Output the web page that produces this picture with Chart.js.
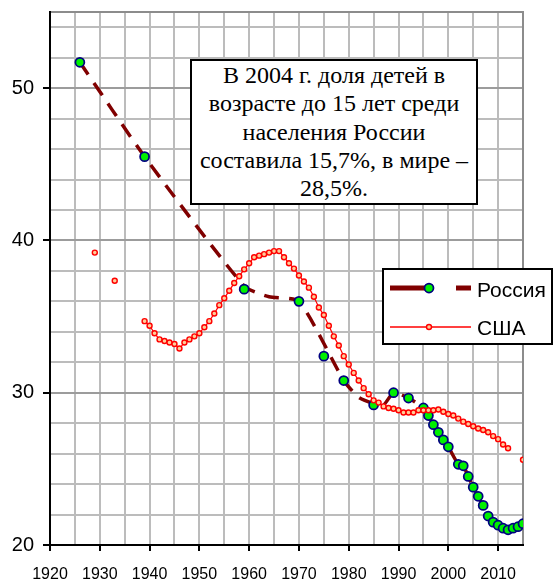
<!DOCTYPE html>
<html>
<head>
<meta charset="utf-8">
<script src="https://cdn.jsdelivr.net/npm/chart.js@4.4.1/dist/chart.umd.min.js"></script>
<style>
  html, body { margin: 0; padding: 0; background: #fff; }
  #wrap { position: relative; width: 554px; height: 585px; }
  #note {
    position: absolute; left: 190px; top: 59px; width: 288px; height: 146px;
    box-sizing: border-box; border: 2px solid #000; background: #fff;
    font-family: "Liberation Serif", "Times New Roman", serif;
    font-size: 24px; line-height: 28.3px; text-align: center; white-space: nowrap; color: #000;
  }
</style>
</head>
<body>
<div id="wrap">
  <canvas id="chart" width="554" height="585"></canvas>
  <div id="note">В 2004 г. доля детей в<br>возрасте до 15 лет среди<br>населения России<br>составила 15,7%, в мире –<br>28,5%.</div>
</div>
<script>
// ---------- Data ----------
const russiaLabel = 'Россия';
const usLabel = 'США';

// Russia: markers
const russiaYears  = [1926, 1939, 1959, 1970, 1975, 1979, 1985, 1989, 1992,
  1995, 1996, 1997, 1998, 1999, 2000,
  2002, 2003, 2004, 2005, 2006, 2007, 2008, 2009, 2010, 2011, 2012, 2013, 2014, 2015];
const russiaValues = [51.7, 45.5, 36.8, 36.0, 32.4, 30.8, 29.2, 30.0, 29.65,
  29.0, 28.5, 27.9, 27.4, 26.9, 26.45,
  25.3, 25.2, 24.5, 23.8, 23.2, 22.6, 21.9, 21.5, 21.3, 21.1, 21.0, 21.1, 21.2, 21.4];

// Russia: dashed line as it is drawn
const russiaLineYears  = [1926, 1939, 1959, 1964, 1970, 1979, 1982, 1985, 1987, 1989, 1992,
  1995, 1996, 1997, 1998, 1999, 2000,
  2002, 2003, 2004, 2005, 2006, 2007, 2008, 2009, 2010, 2011, 2012, 2013, 2014, 2015];
const russiaLineValues = [51.7, 45.5, 37.0, 36.3, 36.0, 30.8, 29.7, 29.3, 29.2, 30.0, 29.65,
  29.0, 28.5, 27.9, 27.4, 26.9, 26.45,
  25.3, 25.2, 24.5, 23.8, 23.2, 22.6, 21.9, 21.5, 21.3, 21.1, 21.0, 21.1, 21.2, 21.4];

// USA
const usYears = [1929, 1933,
  1939, 1940, 1941, 1942, 1943, 1944, 1945, 1946, 1947, 1948, 1949,
  1950, 1951, 1952, 1953, 1954, 1955, 1956, 1957, 1958, 1959,
  1960, 1961, 1962, 1963, 1964, 1965, 1966, 1967, 1968, 1969,
  1970, 1971, 1972, 1973, 1974, 1975, 1976, 1977, 1978, 1979,
  1980, 1981, 1982, 1983, 1984, 1985, 1986, 1987, 1988, 1989,
  1990, 1991, 1992, 1993, 1994, 1995, 1996, 1997, 1998, 1999,
  2000, 2001, 2002, 2003, 2004, 2005, 2006, 2007, 2008, 2009,
  2010, 2011, 2012, 2015];
const usValues = [39.2, 37.35,
  34.7, 34.4, 33.9, 33.5, 33.4, 33.3, 33.2, 32.9, 33.3, 33.5, 33.7,
  33.9, 34.3, 34.7, 35.2, 35.75, 36.2, 36.7, 37.2, 37.65, 38.1,
  38.5, 38.9, 39.0, 39.1, 39.2, 39.3, 39.3, 38.9, 38.5, 38.15,
  37.7, 37.3, 36.9, 36.3, 35.6, 35.1, 34.4, 33.7, 33.1, 32.4,
  31.85, 31.3, 30.8, 30.3, 29.9, 29.5, 29.35, 29.1, 29.0, 28.95,
  28.85, 28.7, 28.7, 28.7, 28.85, 28.85, 28.85, 28.85, 28.9, 28.75,
  28.6, 28.5, 28.3, 28.1, 27.95, 27.8, 27.65, 27.55, 27.4, 27.15,
  26.95, 26.6, 26.35, 25.6];

const xMin = 1920, xMax = 2015, xStep = 5, xLabelStep = 10;
const yMin = 20, yMax = 55, yStep = 2, yLabelStep = 10;

// ---------- Helpers ----------
// pairs -> points, with a null between non-consecutive years so the line breaks
function toPoints(years, values, breakGaps) {
  const pts = [];
  years.forEach((yr, i) => {
    if (breakGaps && i > 0 && yr - years[i - 1] > 1) pts.push({ x: yr - 0.5, y: null });
    pts.push({ x: yr, y: values[i] });
  });
  return pts;
}

// grid positions: every step from min to max
function steps(min, max, step) {
  const out = [];
  for (let v = min; v <= max + 1e-9; v += step) out.push(v);
  return out;
}

const GREEN = '#00f000', NAVY = '#000080', DARKRED = '#800000';
const RED = '#ff0000', PEACH = '#ffcc99';
const GRID = '#bcbcbc', GRID_MAJOR = '#9c9c9c', FRAME = '#8c8c8c';
const SANS = '"Liberation Sans", Arial, sans-serif';

function seg(ctx, x1, y1, x2, y2) {
  ctx.beginPath(); ctx.moveTo(x1, y1); ctx.lineTo(x2, y2); ctx.stroke();
}

// Excel-like grid, frame, axes and tick marks, placed through the chart's scales
const gridPlugin = {
  id: 'excelGrid',
  beforeDatasetsDraw(chart) {
    const ctx = chart.ctx;
    const a = chart.chartArea;
    const sx = chart.scales.x, sy = chart.scales.y;
    ctx.save();
    ctx.setLineDash([]);
    ctx.lineWidth = 2;
    ctx.strokeStyle = GRID;
    steps(xMin, xMax, xStep).forEach(v => {
      const px = Math.round(sx.getPixelForValue(v));
      seg(ctx, px, a.top, px, a.bottom);
    });
    steps(yMin, yMax, yStep).forEach(v => {
      const py = Math.round(sy.getPixelForValue(v));
      ctx.strokeStyle = v % yLabelStep === 0 ? GRID_MAJOR : GRID;
      seg(ctx, a.left, py, a.right, py);
    });
    // top / right frame
    ctx.strokeStyle = FRAME;
    ctx.beginPath();
    ctx.moveTo(a.left, a.top); ctx.lineTo(a.right, a.top); ctx.lineTo(a.right, a.bottom);
    ctx.stroke();
    // axes + tick marks
    ctx.strokeStyle = '#000';
    seg(ctx, a.left, a.top - 1, a.left, a.bottom + 1);
    seg(ctx, a.left - 1, a.bottom, a.right + 1, a.bottom);
    steps(xMin, xMax, xLabelStep).forEach(v => {
      const px = Math.round(sx.getPixelForValue(v));
      seg(ctx, px, a.bottom, px, a.bottom + 6);
    });
    steps(yMin, yMax, yLabelStep).forEach(v => {
      const py = Math.round(sy.getPixelForValue(v));
      seg(ctx, a.left - 7, py, a.left, py);
    });
    ctx.restore();
  }
};

// Excel-like legend box: line + marker + label
const legendPlugin = {
  id: 'boxLegend',
  afterDraw(chart) {
    const ctx = chart.ctx;
    ctx.save();
    ctx.setLineDash([]);
    ctx.fillStyle = '#fff';
    ctx.strokeStyle = '#000';
    ctx.lineWidth = 2;
    ctx.fillRect(383, 269, 169, 75);
    ctx.strokeRect(383, 269, 169, 75);

    // Russia
    ctx.strokeStyle = DARKRED;
    ctx.lineWidth = 5;
    seg(ctx, 390, 288, 425, 288);
    seg(ctx, 456, 288, 471, 288);
    ctx.beginPath();
    ctx.arc(429, 288, 4.5, 0, Math.PI * 2);
    ctx.fillStyle = GREEN; ctx.fill();
    ctx.lineWidth = 1.75; ctx.strokeStyle = NAVY; ctx.stroke();

    // USA
    ctx.strokeStyle = RED;
    ctx.lineWidth = 1.5;
    seg(ctx, 390, 327, 471, 327);
    ctx.beginPath();
    ctx.arc(429, 327, 2.5, 0, Math.PI * 2);
    ctx.fillStyle = PEACH; ctx.fill();
    ctx.lineWidth = 1.4; ctx.strokeStyle = RED; ctx.stroke();

    ctx.fillStyle = '#000';
    ctx.font = '21px ' + SANS;
    ctx.textBaseline = 'middle';
    ctx.textAlign = 'left';
    ctx.fillText(russiaLabel, 477, 291);
    ctx.fillText(usLabel, 477, 329);
    ctx.restore();
  }
};

// ---------- Chart ----------
new Chart(document.getElementById('chart'), {
  type: 'line',
  data: {
    datasets: [
      {
        label: usLabel,
        data: toPoints(usYears, usValues, true),
        borderColor: RED, borderWidth: 1.2,
        pointRadius: 2.5, pointBorderWidth: 1.4,
        pointBackgroundColor: PEACH, pointBorderColor: RED,
        spanGaps: false, tension: 0
      },
      {
        label: russiaLabel,
        data: toPoints(russiaYears, russiaValues, false),
        showLine: false,
        pointRadius: 4.5, pointBorderWidth: 1.75,
        pointBackgroundColor: GREEN, pointBorderColor: NAVY
      },
      {
        label: russiaLabel + ' (линия)',
        data: toPoints(russiaLineYears, russiaLineValues, false),
        borderColor: DARKRED, borderWidth: 3.5, borderDash: [15, 10],
        pointRadius: 0, tension: 0.2
      }
    ]
  },
  options: {
    responsive: false,
    animation: false,
    events: [],
    layout: { padding: { top: 12, right: 31, left: 0, bottom: 0 } },
    plugins: { legend: { display: false }, tooltip: { enabled: false } },
    scales: {
      x: {
        type: 'linear', min: xMin, max: xMax,
        afterFit: s => { s.height = 40; s.paddingLeft = 0; s.paddingRight = 0; },
        border: { display: false },
        grid: { drawOnChartArea: false, drawTicks: false },
        ticks: {
          stepSize: xStep, autoSkip: false, maxRotation: 0, padding: 20,
          color: '#000', font: { family: SANS, size: 16 },
          callback: v => (v % xLabelStep === 0 ? String(v) : '')
        }
      },
      y: {
        min: yMin, max: yMax,
        afterFit: s => { s.width = 50; s.paddingTop = 0; s.paddingBottom = 0; },
        border: { display: false },
        grid: { drawOnChartArea: false, drawTicks: false },
        ticks: {
          stepSize: yStep, autoSkip: false, padding: 16,
          color: '#000', font: { family: SANS, size: 20 },
          callback: v => (v % yLabelStep === 0 ? String(v) : '')
        }
      }
    }
  },
  plugins: [gridPlugin, legendPlugin]
});
</script>
</body>
</html>
